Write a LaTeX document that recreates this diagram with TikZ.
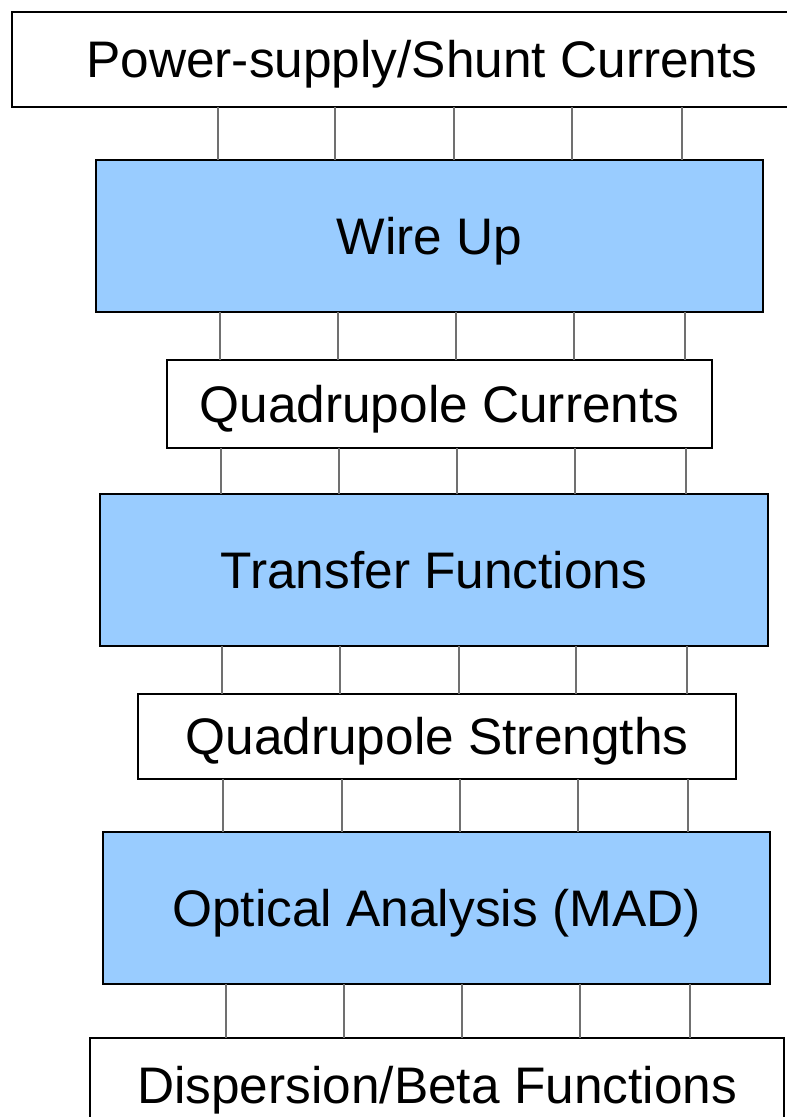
\documentclass[tikz,border=0pt]{standalone}
\usepackage{fontspec}
\setmainfont{Liberation Sans}
\definecolor{boxblue}{HTML}{99CCFF}
\definecolor{linkgray}{HTML}{707070}
\begin{document}
\begin{tikzpicture}[x=1pt,y=-1pt,
  stage/.style={draw=black,line width=1.8pt,inner sep=0pt,outer sep=0pt,
    font=\fontsize{51.4}{61}\selectfont,text height=36.8pt,text depth=0pt},
  bluebox/.style={stage,fill=boxblue},
  whitebox/.style={stage,fill=white},
  link/.style={draw=linkgray,line width=2.4pt}]
\useasboundingbox (0,0) rectangle (787,1117);
\clip (0,0) rectangle (787,1117);
\node[whitebox,minimum width=820pt,minimum height=95pt] (b1) at (422,59.5) {Power-supply/Shunt Currents};
\node[bluebox,minimum width=667pt,minimum height=152pt] (b2) at (429.5,236) {Wire Up};
\node[whitebox,minimum width=545pt,minimum height=88pt] (b3) at (439.5,404) {Quadrupole Currents};
\node[bluebox,minimum width=668pt,minimum height=152pt] (b4) at (434,570) {Transfer Functions};
\node[whitebox,minimum width=598pt,minimum height=85pt] (b5) at (437,736.5) {Quadrupole Strengths};
\node[bluebox,minimum width=667pt,minimum height=152pt] (b6) at (436.5,908) {Optical Analysis (MAD)};
\node[whitebox,minimum width=694pt,minimum height=94pt] (b7) at (437,1085) {Dispersion/Beta Functions};
\foreach \x in {218,335,454,572,682} \draw[link] (b1.south -| \x,0) -- (b2.north -| \x,0);
\foreach \x in {220,338,456,574,685} \draw[link] (b2.south -| \x,0) -- (b3.north -| \x,0);
\foreach \x in {221,339,457,575,686} \draw[link] (b3.south -| \x,0) -- (b4.north -| \x,0);
\foreach \x in {222,340,459,576,687} \draw[link] (b4.south -| \x,0) -- (b5.north -| \x,0);
\foreach \x in {223,342,460,578,688} \draw[link] (b5.south -| \x,0) -- (b6.north -| \x,0);
\foreach \x in {226,344,462,580,690} \draw[link] (b6.south -| \x,0) -- (b7.north -| \x,0);
\end{tikzpicture}
\end{document}
